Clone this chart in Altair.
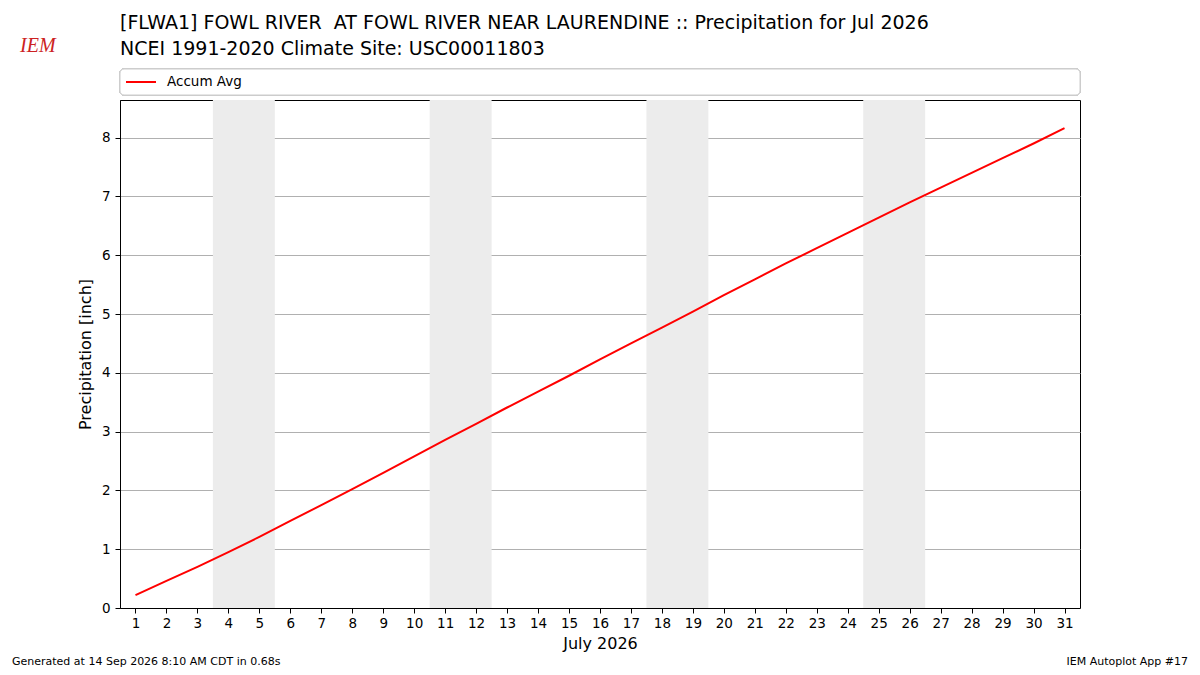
import altair as alt
import pandas as pd

# day of month and average accumulated precipitation (inch)
days = list(range(1, 32))
accum_avg = [0.22, 0.46, 0.70, 0.95, 1.21, 1.48, 1.75, 2.02, 2.30, 2.58,
             2.86, 3.13, 3.41, 3.68, 3.95, 4.23, 4.50, 4.77, 5.04, 5.32,
             5.59, 5.86, 6.12, 6.38, 6.64, 6.90, 7.15, 7.40, 7.65, 7.90,
             8.16]

# weekends (Sat/Sun) shaded
weekend_start = [3.5, 10.5, 17.5, 24.5]
weekend_end = [5.5, 12.5, 19.5, 26.5]

y_ticks = [0, 1, 2, 3, 4, 5, 6, 7, 8]

title1 = "[FLWA1] FOWL RIVER \u00a0AT FOWL RIVER NEAR LAURENDINE :: Precipitation for Jul 2026"
title2 = "NCEI 1991-2020 Climate Site: USC00011803"
footer_left = "Generated at 14 Sep 2026 8:10 AM CDT in 0.68s"
footer_right = "IEM Autoplot App #17"

W, H = 960, 508
FONT = "DejaVu Sans"

df = pd.DataFrame({"day": days, "accum": accum_avg, "series": "Accum Avg"})
bands = pd.DataFrame({"start": weekend_start, "end": weekend_end})

xscale = alt.Scale(domain=[0.5, 31.5], nice=False, zero=False)
yscale = alt.Scale(domain=[0, 8.64], nice=False)
xaxis = alt.Axis(values=days, grid=False, title="July 2026",
                 labelOverlap=False, labelFlush=False,
                 labelPadding=3, titlePadding=6)

shade = alt.Chart(bands).mark_rect(color="#ececec").encode(
    x=alt.X("start:Q", scale=xscale, axis=xaxis),
    x2="end:Q",
)

legend_box = alt.Chart(df).mark_rect(
    fill="white", stroke="#cccccc", strokeWidth=1, cornerRadius=4, clip=False
).encode(x=alt.value(0), x2=alt.value(W), y=alt.value(-31), y2=alt.value(-5))

line = alt.Chart(df).mark_line(strokeWidth=2).encode(
    x=alt.X("day:Q", scale=xscale, axis=xaxis),
    y=alt.Y("accum:Q", scale=yscale,
            axis=alt.Axis(values=y_ticks, grid=True,
                          title="Precipitation [inch]",
                          labelPadding=5, titlePadding=8)),
    color=alt.Color("series:N", scale=alt.Scale(range=["#ff0000"]),
                    legend=alt.Legend(title=None, orient="none",
                                      legendX=5, legendY=-34,
                                      symbolType="stroke", symbolSize=900,
                                      symbolStrokeWidth=2, labelOffset=10,
                                      labelFontSize=13.5, labelFont=FONT,
                                      labelColor="black", padding=0)),
)


def label(txt, x, y, size, align="left", color="black", font=FONT,
          style="normal"):
    return alt.Chart(pd.DataFrame({"t": [txt]})).mark_text(
        align=align, baseline="alphabetic", fontSize=size, font=font,
        color=color, fontStyle=style, clip=False
    ).encode(text="t:N", x=alt.value(x), y=alt.value(y))


decor = [
    label(title1, 0, -71, 19),
    label(title2, 0, -45, 19),
    label(footer_left, -108, 565, 11),
    label(footer_right, 1068, 565, 11, align="right"),
    label("IEM", -100, -48, 20, color="#cc2222",
          font="Liberation Serif", style="italic"),
]

chart = alt.layer(shade, legend_box, line, *decor).properties(
    width=W, height=H,
    autosize=alt.AutoSizeParams(type="none"),
    padding={"left": 112, "top": 92, "right": 110, "bottom": 66},
).configure_view(
    stroke="black", strokeWidth=1
).configure_axis(
    labelFont=FONT, labelFontSize=13.5, labelColor="black",
    titleFont=FONT, titleFontSize=16, titleFontWeight="normal",
    titleColor="black", tickColor="black", tickSize=5,
    domainColor="black", gridColor="#b0b0b0", gridWidth=1,
)

chart.save("out.html", embed_options={"renderer": "svg", "actions": False})
